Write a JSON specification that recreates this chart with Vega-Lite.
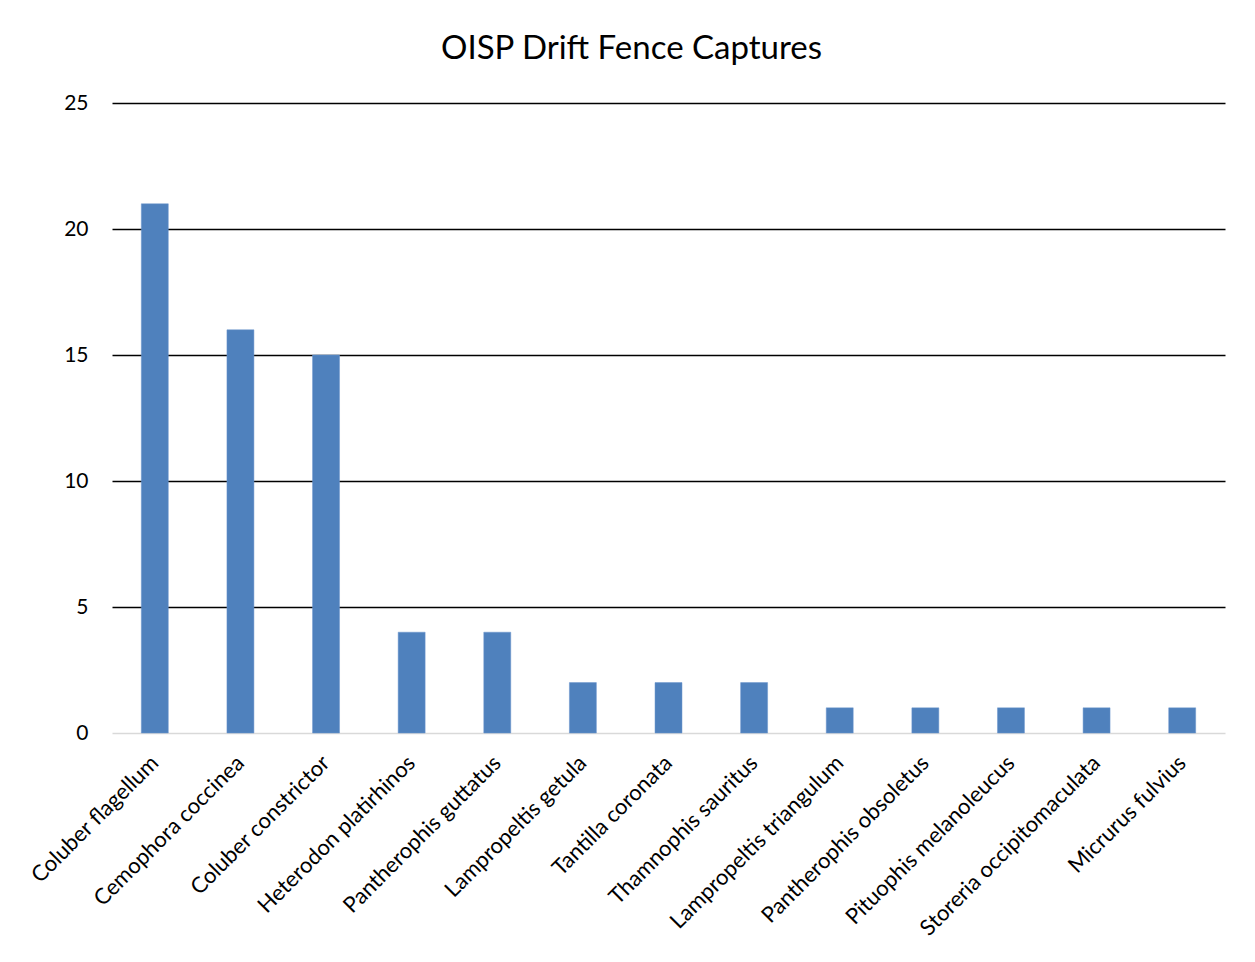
{
  "$schema": "https://vega.github.io/schema/vega-lite/v6.json",
  "width": 1113,
  "height": 630,
  "autosize": {"type": "none"},
  "padding": {"left": 112, "top": 103, "right": 30, "bottom": 229},
  "background": "white",
  "title": {
    "text": "OISP Drift Fence Captures",
    "font": "Lato",
    "fontSize": 33,
    "fontWeight": "normal",
    "color": "black",
    "anchor": "middle",
    "dx": -37,
    "offset": 26
  },
  "data": {
    "values": [
      {"species": "Coluber flagellum", "captures": 21},
      {"species": "Cemophora coccinea", "captures": 16},
      {"species": "Coluber constrictor", "captures": 15},
      {"species": "Heterodon platirhinos", "captures": 4},
      {"species": "Pantherophis guttatus", "captures": 4},
      {"species": "Lampropeltis getula", "captures": 2},
      {"species": "Tantilla coronata", "captures": 2},
      {"species": "Thamnophis sauritus", "captures": 2},
      {"species": "Lampropeltis triangulum", "captures": 1},
      {"species": "Pantherophis obsoletus", "captures": 1},
      {"species": "Pituophis melanoleucus", "captures": 1},
      {"species": "Storeria occipitomaculata", "captures": 1},
      {"species": "Micrurus fulvius", "captures": 1}
    ]
  },
  "mark": {"type": "bar", "color": "#4F81BD", "stroke": "#6a95cc", "strokeWidth": 0.5},
  "encoding": {
    "x": {
      "field": "species",
      "type": "nominal",
      "sort": null,
      "scale": {"paddingInner": 0.685, "paddingOuter": 0.3425},
      "axis": {
        "title": null,
        "labelAngle": -45,
        "labelAlign": "right",
        "labelBaseline": "middle",
        "labelFont": "Lato",
        "labelFontSize": 22,
        "labelColor": "black",
        "labelPadding": 26,
        "ticks": false,
        "domain": false,
        "labelLimit": 400
      }
    },
    "y": {
      "field": "captures",
      "type": "quantitative",
      "scale": {"domain": [0, 25]},
      "axis": {
        "title": null,
        "values": [0, 5, 10, 15, 20, 25],
        "labelFont": "Lato",
        "labelFontSize": 21,
        "labelColor": "black",
        "labelPadding": 24,
        "ticks": false,
        "domain": false,
        "grid": true,
        "gridColor": {"condition": {"test": "datum.value === 0", "value": "#d9d9d9"}, "value": "black"},
        "gridWidth": 1.5
      }
    }
  },
  "config": {"view": {"stroke": null}, "axis": {"gridOpacity": 1}}
}
